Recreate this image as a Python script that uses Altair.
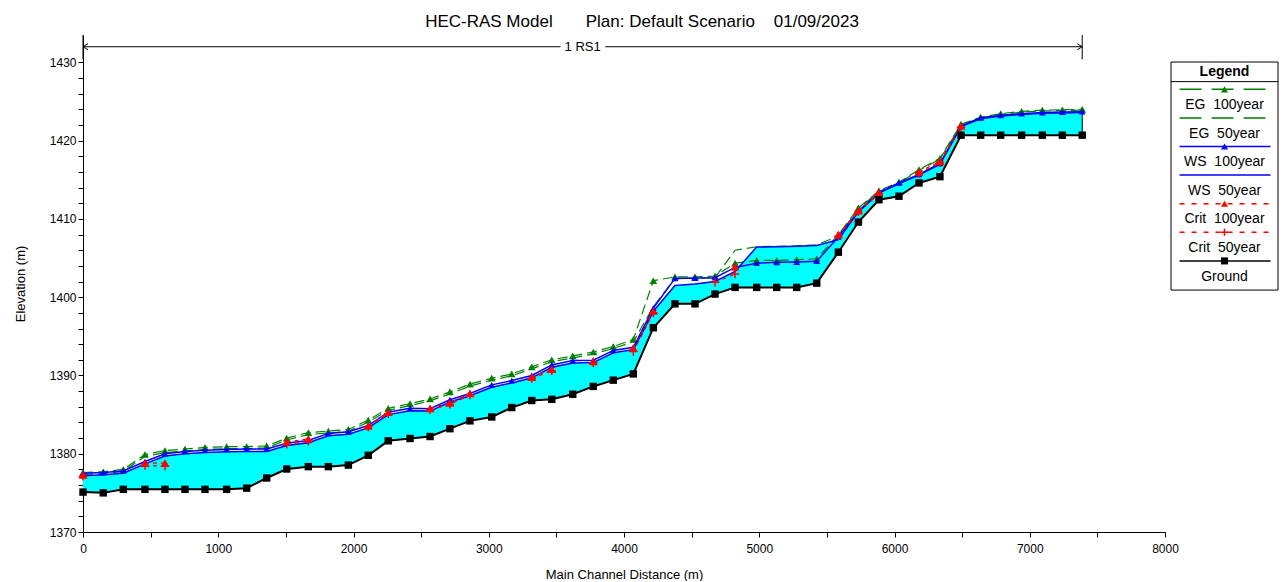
import altair as alt
import pandas as pd

# ---------------- data ----------------
station = [0, 150, 298, 458, 606, 754, 902, 1062, 1210, 1358,
           1506, 1666, 1814, 1962, 2109, 2257, 2418, 2566, 2713, 2861,
           3022, 3170, 3318, 3466, 3621, 3773, 3921, 4069, 4217, 4377,
           4525, 4673, 4821, 4981, 5129, 5277, 5425, 5585, 5733, 5885,
           6033, 6181, 6336, 6492, 6637, 6785, 6940, 7093, 7241, 7388]

ground = [1375.1, 1375.0, 1375.45, 1375.45, 1375.45, 1375.45, 1375.45, 1375.45, 1375.6, 1376.9,
          1378.05, 1378.35, 1378.35, 1378.55, 1379.8, 1381.65, 1381.95, 1382.2, 1383.2, 1384.2,
          1384.7, 1385.9, 1386.8, 1386.95, 1387.6, 1388.6, 1389.4, 1390.2, 1396.1, 1399.15,
          1399.15, 1400.4, 1401.25, 1401.25, 1401.25, 1401.25, 1401.8, 1405.75, 1409.6, 1412.45,
          1412.9, 1414.6, 1415.4, 1420.7, 1420.7, 1420.7, 1420.7, 1420.7, 1420.7, 1420.7]

ws100 = [1377.5, 1377.6, 1377.8, 1379.0, 1380.0, 1380.3, 1380.45, 1380.55, 1380.6, 1380.6,
         1381.35, 1381.7, 1382.6, 1382.8, 1383.6, 1385.3, 1385.8, 1385.75, 1386.9, 1387.7,
         1388.8, 1389.35, 1390.0, 1391.35, 1391.9, 1391.95, 1393.2, 1393.6, 1398.6, 1402.4,
         1402.45, 1402.5, 1403.8, 1404.35, 1404.45, 1404.5, 1404.6, 1407.7, 1411.0, 1413.4,
         1414.6, 1415.7, 1417.1, 1421.9, 1422.9, 1423.25, 1423.45, 1423.6, 1423.65, 1423.7]

ws50 = [1377.2, 1377.3, 1377.5, 1378.7, 1379.7, 1380.0, 1380.15, 1380.25, 1380.3, 1380.3,
        1381.05, 1381.4, 1382.3, 1382.5, 1383.3, 1385.0, 1385.5, 1385.45, 1386.6, 1387.4,
        1388.5, 1389.05, 1389.7, 1391.05, 1391.6, 1391.65, 1392.9, 1393.3, 1398.2, 1401.5,
        1401.7, 1402.0, 1403.3, 1406.4, 1406.45, 1406.5, 1406.6, 1407.35, 1410.9, 1413.3,
        1414.5, 1415.6, 1417.0, 1421.8, 1422.8, 1423.15, 1423.35, 1423.5, 1423.55, 1423.6]

eg100 = [1377.6, 1377.7, 1378.0, 1379.9, 1380.4, 1380.6, 1380.8, 1380.9, 1380.9, 1381.0,
         1382.0, 1382.7, 1382.9, 1383.1, 1384.3, 1385.8, 1386.4, 1387.0, 1387.9, 1388.9,
         1389.65, 1390.2, 1391.1, 1392.0, 1392.5, 1393.0, 1393.7, 1394.6, 1402.1, 1402.6,
         1402.6, 1402.7, 1404.35, 1404.7, 1404.7, 1404.8, 1404.9, 1408.0, 1411.4, 1413.6,
         1414.7, 1416.3, 1417.75, 1422.1, 1423.0, 1423.45, 1423.75, 1423.9, 1423.95, 1424.0]

eg50 = [1377.35, 1377.45, 1377.75, 1379.65, 1380.15, 1380.35, 1380.55, 1380.65, 1380.65, 1380.75,
        1381.75, 1382.45, 1382.65, 1382.85, 1384.05, 1385.55, 1386.15, 1386.75, 1387.65, 1388.65,
        1389.4, 1389.95, 1390.85, 1391.75, 1392.25, 1392.75, 1393.45, 1394.3, 1398.8, 1402.4,
        1402.4, 1402.5, 1406.0, 1406.45, 1406.5, 1406.55, 1406.7, 1407.8, 1411.3, 1413.5,
        1414.6, 1416.2, 1417.65, 1422.0, 1422.9, 1423.35, 1423.65, 1423.8, 1423.85, 1423.9]

N = None
crit100 = [1377.3, N, N, 1378.8, 1378.8, N, N, N, N, N,
           1381.5, 1381.9, N, N, 1383.55, 1385.3, N, 1385.8, 1386.5, 1387.7,
           N, N, 1389.8, 1390.8, N, 1391.8, N, 1393.5, 1398.25, N,
           N, N, 1403.9, N, N, N, N, 1408.0, 1411.05, 1413.4,
           N, 1416.0, 1417.35, 1421.9, N, N, N, N, N, N]

crit50 = [1377.1, N, N, 1378.5, 1378.4, N, N, N, N, N,
          1381.2, 1381.6, N, N, 1383.4, 1385.1, N, 1385.6, 1386.3, 1387.5,
          N, N, 1389.6, 1390.6, N, 1391.6, N, 1393.05, 1398.0, N,
          N, 1401.9, 1402.95, N, N, N, N, 1407.8, 1410.9, 1413.2,
          N, 1415.8, 1417.2, 1421.7, N, N, N, N, N, N]

title_parts = ["HEC-RAS Model", "Plan: Default Scenario", "01/09/2023"]
reach_label = "1 RS1"
legend_labels = ["EG\u00a0\u00a0100year", "EG\u00a0\u00a050year", "WS\u00a0\u00a0100year",
                 "WS\u00a0\u00a050year", "Crit\u00a0\u00a0100year", "Crit\u00a0\u00a050year", "Ground"]

# ---------------- styles ----------------
FONT = "Liberation Sans"
GREEN = "#008000"
BLUE = "#0000FF"
RED = "#FF0000"
CYAN = "#00FFFF"
PLUS = "M-1,0L1,0M0,-1L0,1"
Y_DOMAIN = [1370, 1433.5]
REACH_Y = 1432.0
REACH_TICK = [1430.4, 1433.5]

df = pd.DataFrame({"station": station, "ground": ground, "ws100": ws100, "ws50": ws50,
                   "eg100": eg100, "eg50": eg50})


def segments(values):
    rows, seg, prev = [], 0, False
    for s, v in zip(station, values):
        if v is None:
            if prev:
                seg += 1
            prev = False
            continue
        rows.append({"station": s, "elev": v, "seg": seg})
        prev = True
    return pd.DataFrame(rows)


crit100_df = segments(crit100)
crit50_df = segments(crit50)

x_axis = alt.Axis(values=list(range(0, 8001, 500)), format="d",
                  labelExpr="datum.value % 1000 == 0 ? datum.label : ''",
                  labelFlush=False, labelOverlap=False, grid=False,
                  tickSize=5, labelPadding=6, titlePadding=14)
y_axis = alt.Axis(values=list(range(1370, 1431, 2)), format="d",
                  labelExpr="datum.value % 10 == 0 ? datum.label : ''",
                  labelOverlap=False, grid=False, tickSize=5, labelPadding=2, titlePadding=22)


def X(field="station"):
    return alt.X(f"{field}:Q", scale=alt.Scale(domain=[0, 8000], nice=False, zero=False),
                 axis=x_axis, title="Main Channel Distance (m)")


def Y(field):
    return alt.Y(f"{field}:Q", scale=alt.Scale(domain=Y_DOMAIN, nice=False, zero=False),
                 axis=y_axis, title="Elevation (m)")


base = alt.Chart(df)

area = base.mark_area(color=CYAN, opacity=1).encode(x=X(), y=Y("ws50"), y2=alt.Y2("ground:Q"))
end_rule = alt.Chart(df.tail(1)).mark_rule(color="black", strokeWidth=1).encode(
    x=X(), y=Y("ground"), y2=alt.Y2("ws50:Q"))

eg50_line = base.mark_line(color=GREEN, strokeDash=[10, 5], strokeWidth=1.2).encode(x=X(), y=Y("eg50"))
eg100_line = base.mark_line(color=GREEN, strokeDash=[10, 5], strokeWidth=1.2).encode(x=X(), y=Y("eg100"))
eg100_pts = base.mark_point(shape="triangle-up", filled=True, color=GREEN, size=60, opacity=1).encode(
    x=X(), y=Y("eg100"))

ws50_line = base.mark_line(color=BLUE, strokeWidth=1.5).encode(x=X(), y=Y("ws50"))
ws100_line = base.mark_line(color=BLUE, strokeWidth=1.5).encode(x=X(), y=Y("ws100"))
ws100_pts = base.mark_point(shape="triangle-up", filled=True, color=BLUE, size=45, opacity=1).encode(
    x=X(), y=Y("ws100"))

crit50_line = alt.Chart(crit50_df).mark_line(color=RED, strokeDash=[4, 4], strokeWidth=1.2).encode(
    x=X(), y=Y("elev"), detail="seg:N")
crit50_pts = alt.Chart(crit50_df).mark_point(shape=PLUS, filled=False, color=RED, strokeWidth=1.5,
                                             size=70, opacity=1).encode(x=X(), y=Y("elev"))
crit100_line = alt.Chart(crit100_df).mark_line(color=RED, strokeDash=[4, 4], strokeWidth=1.2).encode(
    x=X(), y=Y("elev"), detail="seg:N")
crit100_pts = alt.Chart(crit100_df).mark_point(shape="triangle-up", filled=True, color=RED, size=80,
                                               opacity=1).encode(x=X(), y=Y("elev"))

ground_line = base.mark_line(color="black", strokeWidth=2).encode(x=X(), y=Y("ground"))
ground_pts = base.mark_point(shape="square", filled=True, color="black", size=55, opacity=1).encode(
    x=X(), y=Y("ground"))

# reach marker (1 RS1) across the top
reach_df = pd.DataFrame({"x0": [station[0]], "x1": [station[-1]], "y": [REACH_Y],
                         "xm": [(station[0] + station[-1]) / 2], "label": [reach_label]})
ends_df = pd.DataFrame({"station": [station[0], station[-1]],
                        "lo": [REACH_TICK[0]] * 2, "hi": [REACH_TICK[1]] * 2, "y": [REACH_Y] * 2})
reach_line = alt.Chart(reach_df).mark_rule(color="black", strokeWidth=1).encode(
    x=X("x0"), x2=alt.X2("x1:Q"), y=Y("y"))
reach_ticks = alt.Chart(ends_df).mark_rule(color="black", strokeWidth=1).encode(
    x=X(), y=Y("lo"), y2=alt.Y2("hi:Q"))
arrow_l = alt.Chart(ends_df.head(1)).mark_point(shape="M2,-1.2L0,0L2,1.2", filled=False, color="black",
                                               strokeWidth=1, size=25, opacity=1).encode(x=X(), y=Y("y"))
arrow_r = alt.Chart(ends_df.tail(1)).mark_point(shape="M-2,-1.2L0,0L-2,1.2", filled=False, color="black",
                                               strokeWidth=1, size=25, opacity=1).encode(x=X(), y=Y("y"))
reach_halo = alt.Chart(reach_df).mark_text(font=FONT, fontSize=13, stroke="white", strokeWidth=10,
                                           color="white").encode(x=X("xm"), y=Y("y"), text="label:N")
reach_text = alt.Chart(reach_df).mark_text(font=FONT, fontSize=13, color="black").encode(
    x=X("xm"), y=Y("y"), text="label:N")

title_text = title_parts[0] + "\u00a0" * 7 + title_parts[1] + "\u00a0" * 4 + title_parts[2]

main = alt.layer(area, end_rule, eg50_line, eg100_line, eg100_pts, ws50_line, ws100_line, ws100_pts,
                 crit50_line, crit50_pts, crit100_line, crit100_pts, ground_line, ground_pts,
                 reach_line, reach_ticks, arrow_l, arrow_r, reach_halo, reach_text).properties(
    width=1082, height=497,
    title=alt.TitleParams(text=title_text, font=FONT, fontSize=17, fontWeight="normal",
                          anchor="middle", dx=18, offset=4, color="black"))

# ---------------- custom legend panel ----------------
styles = [
    dict(color=GREEN, dash=[22, 10], shape="triangle-up", filled=True),
    dict(color=GREEN, dash=[22, 10], shape=None, filled=True),
    dict(color=BLUE, dash=[1, 0], shape="triangle-up", filled=True),
    dict(color=BLUE, dash=[1, 0], shape=None, filled=True),
    dict(color=RED, dash=[5, 7], shape="triangle-up", filled=True),
    dict(color=RED, dash=[5, 7], shape=PLUS, filled=False),
    dict(color="black", dash=[1, 0], shape="square", filled=True),
]

LX = alt.Scale(domain=[0, 1], nice=False, zero=False)
LY = alt.Scale(domain=[-1.9, 15.48], nice=False, zero=False, reverse=True)


def lx(field):
    return alt.X(f"{field}:Q", scale=LX, axis=None)


def ly(field):
    return alt.Y(f"{field}:Q", scale=LY, axis=None)


box_df = pd.DataFrame({"x0": [0], "x1": [1], "y0": [-0.955], "y1": [7.02]})
box = alt.Chart(box_df).mark_rect(fill="white", stroke="black", strokeWidth=1).encode(
    x=lx("x0"), x2=alt.X2("x1:Q"), y=ly("y0"), y2=alt.Y2("y1:Q"))
head_df = pd.DataFrame({"x0": [0], "x1": [1], "xm": [0.5], "yt": [-0.615], "yl": [-0.27], "t": ["Legend"]})
head_text = alt.Chart(head_df).mark_text(font=FONT, fontSize=14, fontWeight="bold", color="black").encode(
    x=lx("xm"), y=ly("yt"), text="t:N")
head_rule = alt.Chart(head_df).mark_rule(color="black", strokeWidth=1).encode(
    x=lx("x0"), x2=alt.X2("x1:Q"), y=ly("yl"))

legend_layers = [box, head_text, head_rule]
for k, (lab, st) in enumerate(zip(legend_labels, styles)):
    seg = pd.DataFrame({"x": [0.08, 0.93], "y": [k, k]})
    legend_layers.append(alt.Chart(seg).mark_line(color=st["color"], strokeDash=st["dash"],
                                                  strokeWidth=1.5).encode(x=lx("x"), y=ly("y")))
    if st["shape"]:
        mk = pd.DataFrame({"x": [0.5], "y": [k]})
        legend_layers.append(alt.Chart(mk).mark_point(shape=st["shape"], filled=st["filled"], color=st["color"],
                                                      size=50, strokeWidth=1.5, opacity=1).encode(
            x=lx("x"), y=ly("y")))
    tx = pd.DataFrame({"x": [0.5], "y": [k + 0.55], "t": [lab]})
    legend_layers.append(alt.Chart(tx).mark_text(font=FONT, fontSize=14, color="black").encode(
        x=lx("x"), y=ly("y"), text="t:N"))

legend = alt.layer(*legend_layers).properties(width=107, height=497)

chart = alt.hconcat(main, legend, spacing=6, bounds="flush").properties(
    padding={"left": 6, "top": 4, "right": 0, "bottom": 0},
).configure(font=FONT).configure_view(stroke=None).configure_axis(
    labelFont=FONT, titleFont=FONT, labelFontSize=12, titleFontSize=13, titleFontWeight="normal",
    labelColor="black", titleColor="black", domainColor="black", tickColor="black",
)

chart.save("out.html", embed_options={"renderer": "svg", "actions": False})
